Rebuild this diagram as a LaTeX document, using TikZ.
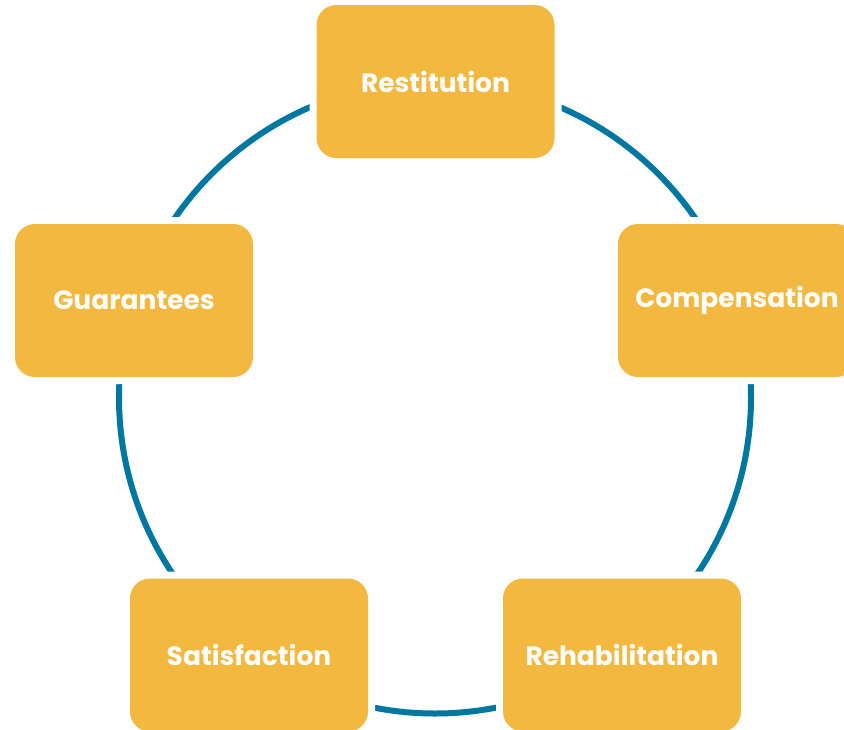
\documentclass[tikz,border=0pt]{standalone}
\usepackage{fontspec}
\setmainfont{Poppins}
\definecolor{boxfill}{HTML}{F2B83F}
\definecolor{ringblue}{HTML}{0077A0}
\begin{document}
\begin{tikzpicture}[x=1pt,y=-1pt,
  stagebox/.style={fill=boxfill, rounded corners=20pt, minimum width=238pt, minimum height=153pt,
    inner sep=0pt, text=white, font=\fontsize{26.5}{30}\selectfont\bfseries,
    preaction={draw=white, line width=14pt}}]
\useasboundingbox (0,0) rectangle (844,729);
\begin{scope}
\clip (0,0) rectangle (844,729);
\coordinate (c) at (435,397.5);
\draw[ringblue, line width=6pt] (c) circle[radius=316pt];
\node[stagebox] (rest) at (435.5,81.5) {Restitution};
\node[stagebox] (comp) at (737,300.5) {Compensation};
\node[stagebox] (reha) at (622,655) {Rehabilitation};
\node[stagebox] (sati) at (249,655) {Satisfaction};
\node[stagebox] (guar) at (134,300.5) {Guarantees};
\end{scope}
\end{tikzpicture}
\end{document}
